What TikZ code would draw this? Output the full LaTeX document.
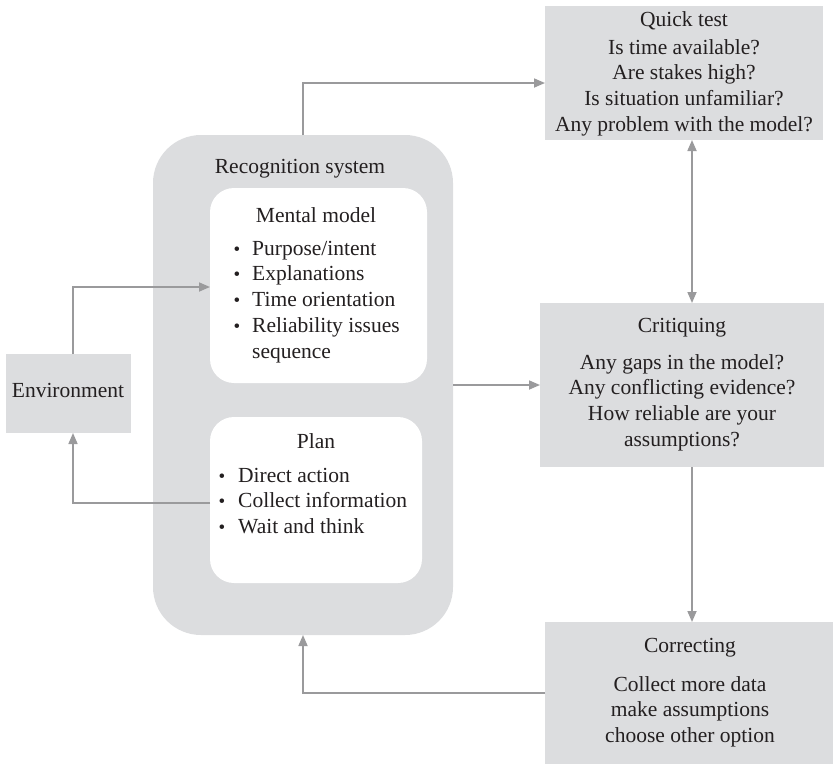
\documentclass[tikz,border=0pt]{standalone}
\usepackage{fontspec}
\setmainfont{Liberation Serif}
\usetikzlibrary{arrows.meta}
\definecolor{boxgray}{HTML}{DCDDDF}
\definecolor{linegray}{HTML}{9A9A9C}
\definecolor{ink}{HTML}{231F20}
\begin{document}
\begin{tikzpicture}[x=1pt,y=-1pt,
  panel/.style={fill=boxgray, draw=none, inner sep=0pt, outer sep=0pt},
  hole/.style={fill=white, draw=none, inner sep=0pt, outer sep=0pt, rounded corners=24pt},
  txt/.style={font=\fontsize{21.5}{26}\selectfont, text=ink, inner sep=0pt, anchor=base},
  item/.style={txt, anchor=base west},
  dot/.style={font=\fontsize{19}{19}\selectfont, text=ink, inner sep=0pt, anchor=base},
  flow/.style={draw=linegray, line width=1.7pt, -{Triangle[length=11pt,width=9pt]}},
  both/.style={flow, {Triangle[length=11pt,width=9pt]}-{Triangle[length=11pt,width=9pt]}},
  ]
\useasboundingbox (0,0) rectangle (833,764);

% boxes
\node[panel, rounded corners=48pt, minimum width=300pt, minimum height=500pt] (rec) at (303,385) {};
\node[hole, minimum width=217pt, minimum height=195pt] (mm) at (318.5,285.5) {};
\node[hole, minimum width=212pt, minimum height=166pt] (pl) at (316,500) {};
\node[panel, minimum width=125pt, minimum height=79pt] (env) at (68.5,393.5) {};
\node[panel, minimum width=278pt, minimum height=134pt] (qt) at (684,73) {};
\node[panel, minimum width=284pt, minimum height=164pt] (crit) at (682,385) {};
\node[panel, minimum width=288pt, minimum height=142pt] (corr) at (689,693) {};

% recognition system texts
\node[txt] (rectitle) at (300,173) {Recognition system};
\node[txt] (mmtitle) at (316,222) {Mental model};
\foreach \t [count=\i] in {Purpose/intent, Explanations, Time orientation, Reliability issues}
  {\node[dot] (mmdot\i) at (237,{255+25.7*(\i-1)}) {•};
   \node[item] (mmitem\i) at (252,{255+25.7*(\i-1)}) {\t};}
\node[item] (mmitem5) at (252,358) {sequence};

\node[txt] (pltitle) at (316,448) {Plan};
\foreach \t [count=\i] in {Direct action, Collect information, Wait and think}
  {\node[dot] (pldot\i) at (222,{482+25.5*(\i-1)}) {•};
   \node[item] (plitem\i) at (238,{482+25.5*(\i-1)}) {\t};}

\node[txt] (envtext) at (68,397) {Environment};

% quick test
\node[txt] (qttitle) at (684,26) {Quick test};
\foreach \t [count=\i] in {Is time available?, Are stakes high?, Is situation unfamiliar?, Any problem with the model?}
  \node[txt] (qtline\i) at (684,{54+25.7*(\i-1)}) {\t};

% critiquing
\node[txt] (crittitle) at (682,332) {Critiquing};
\foreach \t [count=\i] in {Any gaps in the model?, Any conflicting evidence?, How reliable are your, assumptions?}
  \node[txt] (critline\i) at (682,{369+25.7*(\i-1)}) {\t};

% correcting
\node[txt] (corrtitle) at (690,652) {Correcting};
\foreach \t [count=\i] in {Collect more data, make assumptions, choose other option}
  \node[txt] (corrline\i) at (690,{691+25.5*(\i-1)}) {\t};

% connectors
\draw[flow] (rec.north) |- ([yshift=-10pt]qt.west);
\draw[both] ([xshift=8pt]qt.south) -- ([xshift=8pt]qt.south |- crit.north);
\draw[flow] (rec.east) -- (crit.west);
\draw[flow] ([xshift=10pt]crit.south) -- ([xshift=10pt]crit.south |- corr.north);
\draw[flow] (corr.west) -| (rec.south);
\draw[flow] ([xshift=4.5pt]env.north) |- ([yshift=-1.5pt]mm.west);
\draw[flow] ([yshift=-3pt]pl.west) -| ([xshift=4.5pt]env.south);
\end{tikzpicture}
\end{document}
